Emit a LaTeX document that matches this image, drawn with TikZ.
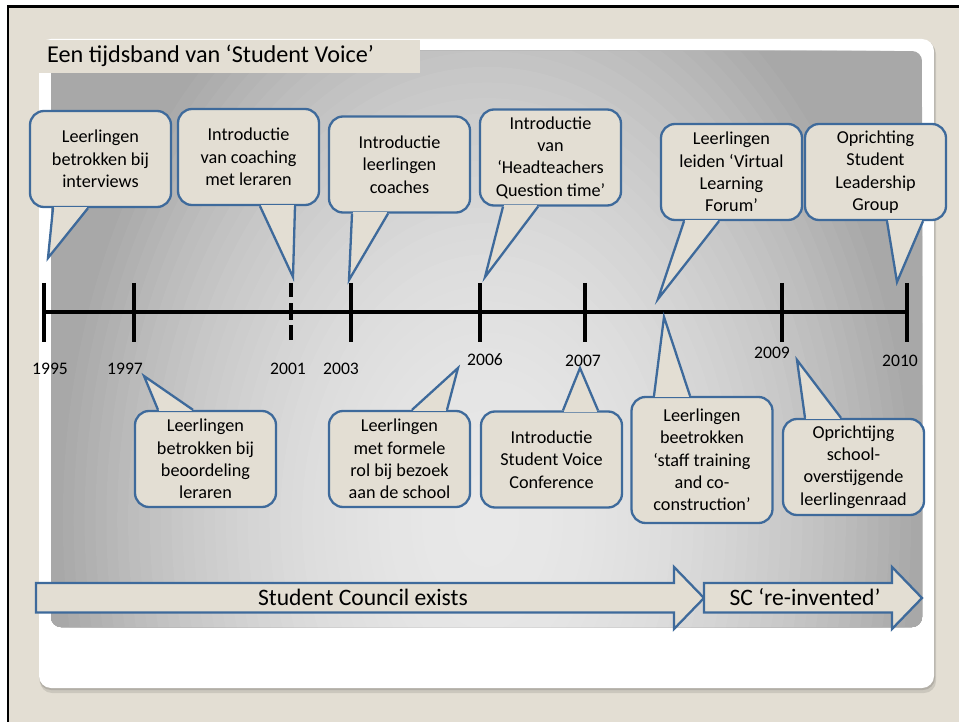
\documentclass[tikz,border=0pt]{standalone}
\usepackage{fontspec}
\setmainfont{Carlito}
\definecolor{beige}{HTML}{E3DED3}
\definecolor{callline}{HTML}{3E6A9B}
\tikzset{
  bubble/.style={draw=callline, line width=2.3pt, fill=beige, rounded corners=14pt,
    minimum width=141pt, minimum height=96pt, inner sep=0pt, align=center,
    font=\fontsize{18.2}{22.3}\selectfont},
  tline/.style={line width=4.5pt},
  yearlbl/.style={font=\fontsize{17.6}{20}\selectfont, anchor=base, inner sep=0pt},
  band/.style={draw=callline, line width=2.3pt, fill=beige},
  bandtext/.style={font=\fontsize{23.6}{28}\selectfont, anchor=base, inner sep=0pt}
}
% tail of a callout: edge anchor, left x, right x, tip
\newcommand{\calltail}[4]{%
  \fill[beige] (#2,0 |- #1) -- (#4) -- (#3,0 |- #1) -- cycle;
  \draw[beige, line width=3pt, shorten <=1.4pt, shorten >=1.4pt] (#2,0 |- #1) -- (#3,0 |- #1);
  \draw[callline, line width=2.3pt] (#2,0 |- #1) -- (#4) -- (#3,0 |- #1);
}

\begin{document}
\begin{tikzpicture}[x=1pt, y=-1pt]
\useasboundingbox (0,0) rectangle (959,722);
% slide
\fill[white] (0,0) rectangle (959,722);
\fill[beige] (8,6) rectangle (959,722);
\draw[line width=2.5pt] (8,722) -- (8,6.5) -- (959,6.5);
\fill[black, opacity=0.10, rounded corners=12pt] (40,42) rectangle (936,693);
\fill[black, opacity=0.12, rounded corners=12pt] (39,40) rectangle (935,690);
\fill[white, rounded corners=12pt] (39,39) rectangle (934,688);
% grey panel, lighter towards the lower middle
\begin{scope}
  \clip[rounded corners=10pt] (51,51) rectangle (922,627);
  \fill[black!34] (51,51) rectangle (922,627);
  \foreach \d in {1.2,1.175,...,0.01} {
    \pgfmathsetmacro\dk{min(34,9+25*\d*\d)}
    \fill[black!\dk] (487,520) ellipse [x radius=435*\d, y radius=625*\d];
  }
\end{scope}

% title
\fill[beige] (37,40) rectangle (420,73);
\node[anchor=base west, font=\fontsize{24.2}{28}\selectfont, inner sep=0pt] (title) at (47,63) {Een tijdsband van ‘Student Voice’};

% timeline
\draw[tline] (44,312) -- (907,312);
\foreach \x in {44,134,351,480,585,782,907}
  \draw[tline] (\x,283) -- (\x,342);
\draw[tline, dash pattern=on 14pt off 6pt on 17pt off 5pt on 15pt off 20pt] (291,283) -- (291,342);
\foreach \x/\y/\yr in {50/374/1995, 125/374/1997, 288/374/2001, 341/374/2003,
                       485/365/2006, 583/366/2007, 772/358/2009, 900/366/2010}
  \node[yearlbl] (y\yr) at (\x,\y) {\yr};

% callouts above
\node[bubble] (c1) at (100.5,159) {Leerlingen\\betrokken bij\\interviews};
\calltail{c1.south}{53}{88}{48,258}
\node[bubble] (c2) at (248.5,157) {Introductie\\van coaching\\met leraren};
\calltail{c2.south}{260}{295}{293,277}
\node[bubble] (c3) at (399.5,164.5) {Introductie\\leerlingen\\coaches};
\calltail{c3.south}{352}{388}{349,280}
\node[bubble] (c4) at (550.5,157.5) {Introductie\\van\\‘Headteachers\\Question time’};
\calltail{c4.south}{503}{538}{485,277}
\node[bubble] (c5) at (731.5,172) {Leerlingen\\leiden ‘Virtual\\Learning\\Forum’};
\calltail{c5.south}{684}{719}{658,299}
\node[bubble] (c6) at (875.5,172) {Oprichting\\Student\\Leadership\\Group};
\calltail{c6.south}{887}{923}{897,282}

% callouts below
\node[bubble] (c7) at (205.5,459) {Leerlingen\\betrokken bij\\beoordeling\\leraren};
\calltail{c7.north}{158}{193}{144,376}
\node[bubble] (c8) at (399.5,459) {Leerlingen\\met formele\\rol bij bezoek\\aan de school};
\calltail{c8.north}{412}{447}{458,368}
\node[bubble] (c9) at (551.5,459.5) {Introductie\\Student Voice\\Conference};
\calltail{c9.north}{563}{598}{580,368}
\node[bubble, minimum height=126pt] (c10) at (702,460) {Leerlingen\\beetrokken\\‘staff training\\and co-\\construction’};
\calltail{c10.north}{654}{690}{664,317}
\node[bubble] (c11) at (853.5,467) {Oprichtijng\\school-\\overstijgende\\leerlingenraad};
\calltail{c11.north}{805}{841}{797,360}

% student council
\draw[band] (36,583) -- (674,583) -- (674,567) -- (704,598) -- (674,629) -- (674,612.5) -- (36,612.5) -- cycle;
\node[bandtext] (council) at (363,605) {Student Council exists};
\draw[band] (704,583) -- (892,583) -- (892,567) -- (922,598) -- (892,629) -- (892,612.5) -- (704,612.5) -- cycle;
\node[bandtext] (reinvent) at (805,605) {SC ‘re-invented’};
\end{tikzpicture}
\end{document}
